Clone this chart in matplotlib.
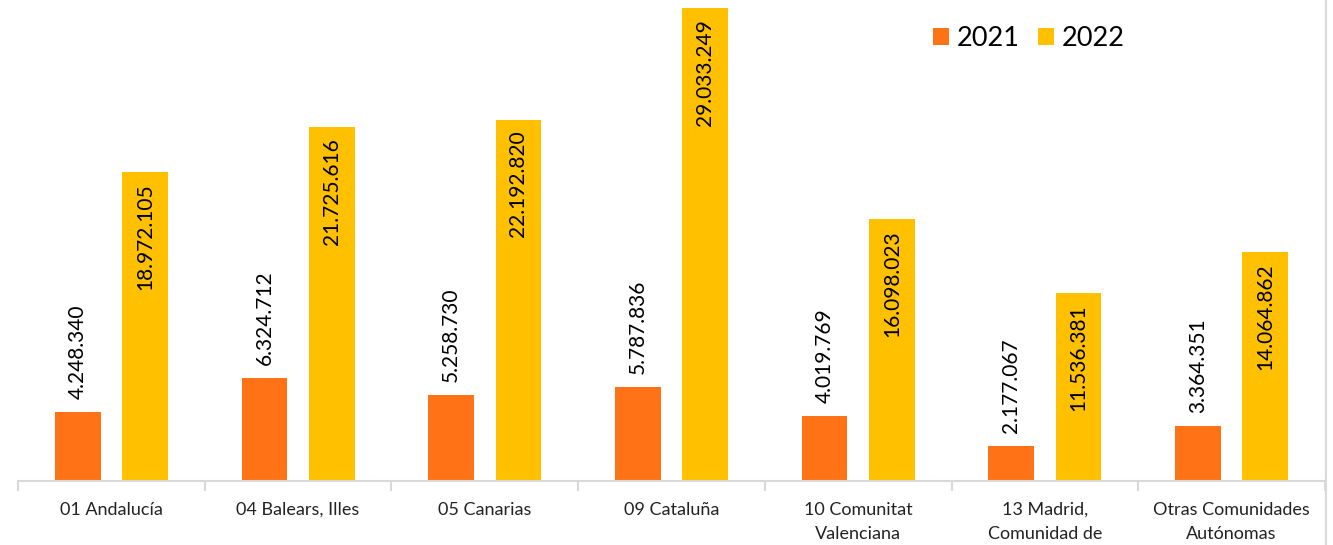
import matplotlib
matplotlib.use("Agg")
import matplotlib.pyplot as plt
import numpy as np

categories = ["01 Andalucía", "04 Balears, Illes", "05 Canarias", "09 Cataluña",
              "10 Comunitat\nValenciana", "13 Madrid,\nComunidad de",
              "Otras Comunidades\nAutónomas"]
values_2021 = [4248340, 6324712, 5258730, 5787836, 4019769, 2177067, 3364351]
values_2022 = [18972105, 21725616, 22192820, 29033249, 16098023, 11536381, 14064862]

c2021 = "#FF7316"
c2022 = "#FFC000"

plt.rcParams['font.family'] = ['Lato', 'DejaVu Sans']


def fmt(v):
    return f"{v:,}".replace(",", ".")


fig = plt.figure(figsize=(13.33, 5.45), dpi=100)
ax = fig.add_axes([18 / 1333, 64 / 545, 1307 / 1333, 481 / 545])

x = np.arange(len(categories))
w = 0.245
off = 0.18
b1 = ax.bar(x - off, values_2021, w, color=c2021, label="2021")
b2 = ax.bar(x + off, values_2022, w, color=c2022, label="2022")

ax.set_xlim(-0.5, len(categories) - 0.5)
ax.set_ylim(0, 29.55e6)

for rect, v in zip(b1, values_2021):
    ax.annotate(fmt(v), (rect.get_x() + rect.get_width() / 2, v),
                xytext=(0, 13), textcoords="offset pixels",
                rotation=90, ha="center", va="bottom", fontsize=15, color="#000000")
for rect, v in zip(b2, values_2022):
    ax.annotate(fmt(v), (rect.get_x() + rect.get_width() / 2, v),
                xytext=(0, -11), textcoords="offset pixels",
                rotation=90, ha="center", va="top", fontsize=15, color="#000000")

for s in ["top", "right", "left"]:
    ax.spines[s].set_visible(False)
ax.spines["bottom"].set_color("#d9d9d9")
ax.spines["bottom"].set_linewidth(1.5)
ax.set_yticks([])

ax.set_xticks(x)
ax.set_xticklabels(categories, fontsize=13, color="#222222", linespacing=1.6, va="top")
ax.tick_params(axis="x", length=0, pad=15)
ax.set_xticks(np.arange(-0.5, len(categories)), minor=True)
ax.tick_params(axis="x", which="minor", length=7, width=1.5, color="#d9d9d9")

ax.legend(loc="upper left", bbox_to_anchor=(922 / 1307 - 18 / 1307, 1.0 - 15 / 481),
          ncol=2, frameon=False, fontsize=19.5, handlelength=0.6, handleheight=0.6,
          handletextpad=0.3, columnspacing=0.65, borderaxespad=0)

# right border line of the chart frame
fig.add_artist(plt.Line2D([1326 / 1333, 1326 / 1333], [0, 1], transform=fig.transFigure,
                          color="#d9d9d9", linewidth=1.5))

fig.savefig("out.png", dpi=100)
